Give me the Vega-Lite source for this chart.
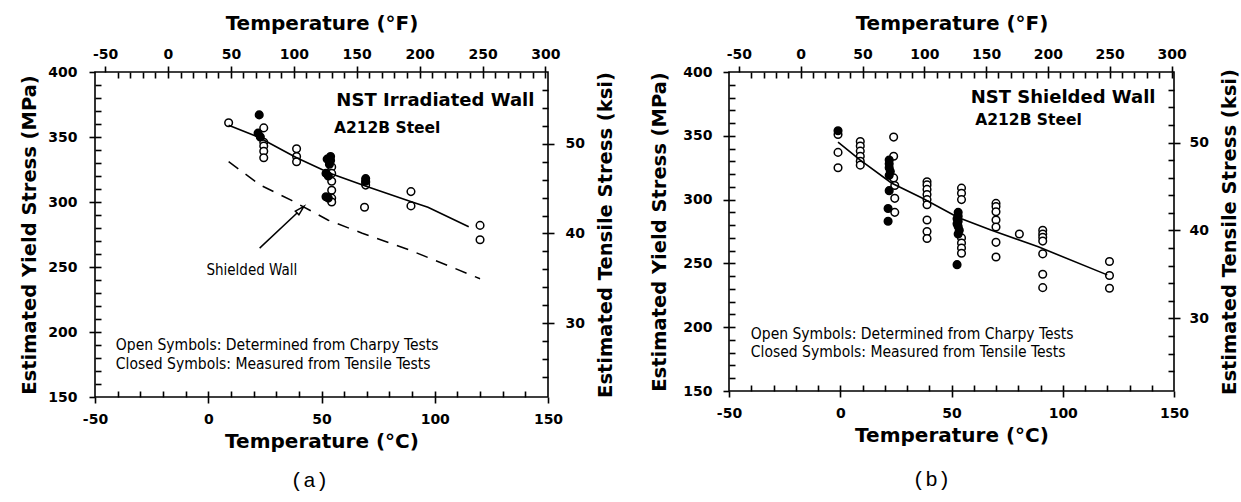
{
  "$schema": "https://vega.github.io/schema/vega-lite/v6.json",
  "background": "white",
  "padding": {"left": 18, "top": 12, "right": 0, "bottom": 2},
  "spacing": 32,
  "config": {
    "view": {"stroke": "black", "strokeWidth": 1.6},
    "axis": {
      "grid": false,
      "domain": false,
      "ticks": true,
      "labelFont": "DejaVu Sans",
      "labelFontWeight": "bold",
      "labelFontSize": 14,
      "labelColor": "black",
      "tickColor": "black",
      "tickWidth": 1.6,
      "titleFont": "DejaVu Sans",
      "titleFontWeight": "bold",
      "titleFontSize": 19.5,
      "titleColor": "black",
      "labelFlush": false,
      "labelOverlap": false,
      "labelBound": false
    },
    "text": {"color": "black"}
  },
  "datasets": {
    "irradiated": [
      {"temp_c": 9, "yield_mpa": 361, "test": "Charpy"},
      {"temp_c": 24.5, "yield_mpa": 357, "test": "Charpy"},
      {"temp_c": 24.5, "yield_mpa": 346, "test": "Charpy"},
      {"temp_c": 24.5, "yield_mpa": 343, "test": "Charpy"},
      {"temp_c": 24.5, "yield_mpa": 339, "test": "Charpy"},
      {"temp_c": 24.5, "yield_mpa": 334, "test": "Charpy"},
      {"temp_c": 39, "yield_mpa": 341, "test": "Charpy"},
      {"temp_c": 39, "yield_mpa": 335, "test": "Charpy"},
      {"temp_c": 39, "yield_mpa": 331, "test": "Charpy"},
      {"temp_c": 54.5, "yield_mpa": 327, "test": "Charpy"},
      {"temp_c": 54.5, "yield_mpa": 322, "test": "Charpy"},
      {"temp_c": 54.5, "yield_mpa": 316, "test": "Charpy"},
      {"temp_c": 54.5, "yield_mpa": 309, "test": "Charpy"},
      {"temp_c": 54.5, "yield_mpa": 303, "test": "Charpy"},
      {"temp_c": 54.5, "yield_mpa": 300, "test": "Charpy"},
      {"temp_c": 69.5, "yield_mpa": 315, "test": "Charpy"},
      {"temp_c": 69.5, "yield_mpa": 313, "test": "Charpy"},
      {"temp_c": 69, "yield_mpa": 296, "test": "Charpy"},
      {"temp_c": 89.5, "yield_mpa": 308, "test": "Charpy"},
      {"temp_c": 89.5, "yield_mpa": 297, "test": "Charpy"},
      {"temp_c": 120, "yield_mpa": 282, "test": "Charpy"},
      {"temp_c": 120, "yield_mpa": 271, "test": "Charpy"},
      {"temp_c": 22.5, "yield_mpa": 367, "test": "Tensile"},
      {"temp_c": 22, "yield_mpa": 353, "test": "Tensile"},
      {"temp_c": 23, "yield_mpa": 350, "test": "Tensile"},
      {"temp_c": 52.5, "yield_mpa": 333, "test": "Tensile"},
      {"temp_c": 54, "yield_mpa": 335, "test": "Tensile"},
      {"temp_c": 54, "yield_mpa": 332, "test": "Tensile"},
      {"temp_c": 53.5, "yield_mpa": 329, "test": "Tensile"},
      {"temp_c": 52, "yield_mpa": 322, "test": "Tensile"},
      {"temp_c": 53, "yield_mpa": 320, "test": "Tensile"},
      {"temp_c": 52, "yield_mpa": 304, "test": "Tensile"},
      {"temp_c": 53, "yield_mpa": 303, "test": "Tensile"},
      {"temp_c": 69.5, "yield_mpa": 318, "test": "Tensile"},
      {"temp_c": 69.5, "yield_mpa": 316, "test": "Tensile"}
    ],
    "irradiated_fit": [
      {"temp_c": 9, "yield_mpa": 359},
      {"temp_c": 22, "yield_mpa": 350},
      {"temp_c": 39, "yield_mpa": 334},
      {"temp_c": 54, "yield_mpa": 322},
      {"temp_c": 70, "yield_mpa": 312},
      {"temp_c": 90, "yield_mpa": 300},
      {"temp_c": 97, "yield_mpa": 296},
      {"temp_c": 115, "yield_mpa": 281}
    ],
    "shielded": [
      {"temp_c": -1, "yield_mpa": 351, "test": "Charpy"},
      {"temp_c": -1, "yield_mpa": 337, "test": "Charpy"},
      {"temp_c": -1, "yield_mpa": 325, "test": "Charpy"},
      {"temp_c": 9, "yield_mpa": 345.5, "test": "Charpy"},
      {"temp_c": 9, "yield_mpa": 342, "test": "Charpy"},
      {"temp_c": 9, "yield_mpa": 338, "test": "Charpy"},
      {"temp_c": 9, "yield_mpa": 334, "test": "Charpy"},
      {"temp_c": 9, "yield_mpa": 330, "test": "Charpy"},
      {"temp_c": 9, "yield_mpa": 327, "test": "Charpy"},
      {"temp_c": 24, "yield_mpa": 349, "test": "Charpy"},
      {"temp_c": 24, "yield_mpa": 334, "test": "Charpy"},
      {"temp_c": 24, "yield_mpa": 317, "test": "Charpy"},
      {"temp_c": 24.5, "yield_mpa": 311, "test": "Charpy"},
      {"temp_c": 24.5, "yield_mpa": 301, "test": "Charpy"},
      {"temp_c": 24.5, "yield_mpa": 290, "test": "Charpy"},
      {"temp_c": 39, "yield_mpa": 314, "test": "Charpy"},
      {"temp_c": 39, "yield_mpa": 311.5, "test": "Charpy"},
      {"temp_c": 39, "yield_mpa": 308, "test": "Charpy"},
      {"temp_c": 39, "yield_mpa": 304, "test": "Charpy"},
      {"temp_c": 39, "yield_mpa": 300, "test": "Charpy"},
      {"temp_c": 39, "yield_mpa": 296, "test": "Charpy"},
      {"temp_c": 39, "yield_mpa": 284, "test": "Charpy"},
      {"temp_c": 39, "yield_mpa": 275, "test": "Charpy"},
      {"temp_c": 39, "yield_mpa": 269.5, "test": "Charpy"},
      {"temp_c": 54.5, "yield_mpa": 309, "test": "Charpy"},
      {"temp_c": 54.5, "yield_mpa": 305, "test": "Charpy"},
      {"temp_c": 54.5, "yield_mpa": 300, "test": "Charpy"},
      {"temp_c": 54.5, "yield_mpa": 270, "test": "Charpy"},
      {"temp_c": 54.5, "yield_mpa": 266, "test": "Charpy"},
      {"temp_c": 54.5, "yield_mpa": 262, "test": "Charpy"},
      {"temp_c": 54.5, "yield_mpa": 258, "test": "Charpy"},
      {"temp_c": 70, "yield_mpa": 297, "test": "Charpy"},
      {"temp_c": 70, "yield_mpa": 294.5, "test": "Charpy"},
      {"temp_c": 70, "yield_mpa": 290.5, "test": "Charpy"},
      {"temp_c": 70, "yield_mpa": 284, "test": "Charpy"},
      {"temp_c": 70, "yield_mpa": 278.5, "test": "Charpy"},
      {"temp_c": 70, "yield_mpa": 266.5, "test": "Charpy"},
      {"temp_c": 70, "yield_mpa": 255, "test": "Charpy"},
      {"temp_c": 80.5, "yield_mpa": 273, "test": "Charpy"},
      {"temp_c": 91, "yield_mpa": 276, "test": "Charpy"},
      {"temp_c": 91, "yield_mpa": 273, "test": "Charpy"},
      {"temp_c": 91, "yield_mpa": 270.5, "test": "Charpy"},
      {"temp_c": 91, "yield_mpa": 267.5, "test": "Charpy"},
      {"temp_c": 91, "yield_mpa": 257.5, "test": "Charpy"},
      {"temp_c": 91, "yield_mpa": 241.5, "test": "Charpy"},
      {"temp_c": 91, "yield_mpa": 231, "test": "Charpy"},
      {"temp_c": 121, "yield_mpa": 251.5, "test": "Charpy"},
      {"temp_c": 121, "yield_mpa": 240.5, "test": "Charpy"},
      {"temp_c": 121, "yield_mpa": 230.5, "test": "Charpy"},
      {"temp_c": -1, "yield_mpa": 354, "test": "Tensile"},
      {"temp_c": 22, "yield_mpa": 331, "test": "Tensile"},
      {"temp_c": 22, "yield_mpa": 328, "test": "Tensile"},
      {"temp_c": 22, "yield_mpa": 325, "test": "Tensile"},
      {"temp_c": 22.5, "yield_mpa": 322, "test": "Tensile"},
      {"temp_c": 22, "yield_mpa": 319, "test": "Tensile"},
      {"temp_c": 22, "yield_mpa": 307, "test": "Tensile"},
      {"temp_c": 21.5, "yield_mpa": 293, "test": "Tensile"},
      {"temp_c": 21.5, "yield_mpa": 283, "test": "Tensile"},
      {"temp_c": 53, "yield_mpa": 290, "test": "Tensile"},
      {"temp_c": 53, "yield_mpa": 287, "test": "Tensile"},
      {"temp_c": 52.5, "yield_mpa": 285, "test": "Tensile"},
      {"temp_c": 53, "yield_mpa": 283, "test": "Tensile"},
      {"temp_c": 52.5, "yield_mpa": 281, "test": "Tensile"},
      {"temp_c": 53, "yield_mpa": 279, "test": "Tensile"},
      {"temp_c": 53.5, "yield_mpa": 276, "test": "Tensile"},
      {"temp_c": 53, "yield_mpa": 273, "test": "Tensile"},
      {"temp_c": 52.5, "yield_mpa": 249, "test": "Tensile"}
    ],
    "shielded_fit": [
      {"temp_c": -1, "yield_mpa": 345},
      {"temp_c": 9, "yield_mpa": 331},
      {"temp_c": 23, "yield_mpa": 313},
      {"temp_c": 37, "yield_mpa": 301},
      {"temp_c": 53, "yield_mpa": 286},
      {"temp_c": 68, "yield_mpa": 276},
      {"temp_c": 89, "yield_mpa": 263},
      {"temp_c": 120, "yield_mpa": 241}
    ]
  },
  "hconcat": [
    {
      "width": 453,
      "height": 325,
      "title": {"text": "(a)", "orient": "bottom", "anchor": "middle", "font": "Liberation Mono", "fontSize": 21, "fontWeight": "normal", "color": "black", "offset": 19, "dx": -12},
      "resolve": {"axis": {"x": "independent", "y": "independent"}},
      "layer": [
        {
          "data": {"name": "irradiated"},
          "mark": {"type": "point", "shape": "circle", "filled": true, "size": 58, "stroke": "black", "strokeWidth": 1.5, "opacity": 1},
          "encoding": {
            "x": {"field": "temp_c", "type": "quantitative", "scale": {"domain": [-50, 150], "nice": false, "zero": false},
              "axis": {"orient": "bottom", "values": [-50, 0, 50, 100, 150], "tickSize": 6, "labelPadding": 9, "title": "Temperature (°C)", "titleFontSize": 20, "titlePadding": 5, "labelExpr": "replace(format(datum.value, 'd'), '\u2212', '-')"}},
            "y": {"field": "yield_mpa", "type": "quantitative", "scale": {"domain": [150, 400], "nice": false, "zero": false},
              "axis": {"orient": "left", "values": [150, 200, 250, 300, 350, 400], "tickSize": 6, "labelPadding": 12, "title": "Estimated Yield Stress (MPa)", "titlePadding": 8}},
            "fill": {"field": "test", "type": "nominal", "scale": {"domain": ["Charpy", "Tensile"], "range": ["white", "black"]}, "legend": null}
          }
        },
        {
          "data": {"name": "irradiated_fit"},
          "mark": {"type": "line", "color": "black", "strokeWidth": 1.6},
          "encoding": {
            "x": {"field": "temp_c", "type": "quantitative", "scale": {"domain": [-50, 150], "nice": false, "zero": false},
              "axis": {"orient": "bottom", "values": [-40, -30, -20, -10, 0, 10, 20, 30, 40, 50, 60, 70, 80, 90, 100, 110, 120, 130, 140], "tickSize": -6, "labels": false, "title": null}},
            "y": {"field": "yield_mpa", "type": "quantitative", "scale": {"domain": [150, 400], "nice": false, "zero": false},
              "axis": {"orient": "left", "values": [160, 170, 180, 190, 200, 210, 220, 230, 240, 250, 260, 270, 280, 290, 300, 310, 320, 330, 340, 350, 360, 370, 380, 390], "tickSize": -6, "labels": false, "title": null}}
          }
        },
        {
          "data": {"name": "shielded_fit"},
          "transform": [{"filter": "datum.temp_c >= 9"}],
          "mark": {"type": "line", "color": "black", "strokeWidth": 1.5, "strokeDash": [12, 9]},
          "encoding": {
            "x": {"field": "temp_c", "type": "quantitative", "scale": {"domain": [-50, 150], "nice": false, "zero": false},
              "axis": {"orient": "top", "values": [-45.556, -17.778, 10, 37.778, 65.556, 93.333, 121.111, 148.889], "tickSize": 6, "labelPadding": 5, "title": "Temperature (°F)", "titleFontSize": 20, "titlePadding": 14, "labelExpr": "replace(format(datum.value * 1.8 + 32, '.0f'), '\u2212', '-')"}},
            "y": {"field": "yield_mpa", "type": "quantitative", "scale": {"domain": [150, 400], "nice": false, "zero": false},
              "axis": {"orient": "right", "values": [206.843, 275.79, 344.738], "tickSize": 6, "labelPadding": 11, "title": "Estimated Tensile Stress (ksi)", "titleAngle": 270, "titleBaseline": "top", "titlePadding": 12, "labelExpr": "format(datum.value / 6.894757, '.0f')"}}
          }
        },
        {
          "data": {"values": [{}]},
          "mark": {"type": "text", "text": "NST Irradiated Wall", "font": "DejaVu Sans", "fontWeight": "bold", "fontSize": 18, "align": "right", "baseline": "middle"},
          "encoding": {
            "x": {"datum": 144, "type": "quantitative", "scale": {"domain": [-50, 150], "nice": false, "zero": false},
              "axis": {"orient": "top", "values": [-40, -34.444, -28.889, -23.333, -17.778, -12.222, -6.667, -1.111, 4.444, 10, 15.556, 21.111, 26.667, 32.222, 37.778, 43.333, 48.889, 54.444, 60, 65.556, 71.111, 76.667, 82.222, 87.778, 93.333, 98.889, 104.444, 110, 115.556, 121.111, 126.667, 132.222, 137.778, 143.333, 148.889], "tickSize": -6, "labels": false, "title": null}},
            "y": {"datum": 378, "type": "quantitative", "scale": {"domain": [150, 400], "nice": false, "zero": false},
              "axis": {"orient": "right", "values": [165.465, 179.264, 193.053, 206.843, 220.632, 234.422, 248.211, 262.001, 275.79, 289.58, 303.369, 317.159, 330.948, 344.738, 358.527, 372.317, 386.106], "tickSize": -6, "labels": false, "title": null}}
          }
        },
        {
          "data": {"values": [{}]},
          "mark": {"type": "text", "text": "A212B  Steel", "font": "DejaVu Sans", "fontWeight": "bold", "fontSize": 15.5, "align": "left", "baseline": "middle"},
          "encoding": {
            "x": {"datum": 55.5, "type": "quantitative", "scale": {"domain": [-50, 150], "nice": false, "zero": false}, "axis": null},
            "y": {"datum": 357, "type": "quantitative", "scale": {"domain": [150, 400], "nice": false, "zero": false}, "axis": null}
          }
        },
        {
          "data": {"values": [{}]},
          "mark": {"type": "text", "text": "Open Symbols: Determined from Charpy Tests", "font": "Liberation Sans Narrow, DejaVu Sans Condensed, sans-serif", "fontSize": 15.5, "align": "left", "baseline": "middle"},
          "encoding": {
            "x": {"datum": -40.8, "type": "quantitative", "scale": {"domain": [-50, 150], "nice": false, "zero": false}, "axis": null},
            "y": {"datum": 190, "type": "quantitative", "scale": {"domain": [150, 400], "nice": false, "zero": false}, "axis": null}
          }
        },
        {
          "data": {"values": [{}]},
          "mark": {"type": "text", "text": "Closed Symbols: Measured from Tensile Tests", "font": "Liberation Sans Narrow, DejaVu Sans Condensed, sans-serif", "fontSize": 15.5, "align": "left", "baseline": "middle"},
          "encoding": {
            "x": {"datum": -40.8, "type": "quantitative", "scale": {"domain": [-50, 150], "nice": false, "zero": false}, "axis": null},
            "y": {"datum": 175.4, "type": "quantitative", "scale": {"domain": [150, 400], "nice": false, "zero": false}, "axis": null}
          }
        },
        {
          "data": {"values": [{}]},
          "mark": {"type": "text", "text": "Shielded Wall", "font": "Liberation Sans Narrow, DejaVu Sans Condensed, sans-serif", "fontSize": 15, "align": "left", "baseline": "middle"},
          "encoding": {
            "x": {"datum": -0.8, "type": "quantitative", "scale": {"domain": [-50, 150], "nice": false, "zero": false}, "axis": null},
            "y": {"datum": 247.7, "type": "quantitative", "scale": {"domain": [150, 400], "nice": false, "zero": false}, "axis": null}
          }
        },
        {
          "data": {"values": [{}]},
          "mark": {"type": "rule", "color": "black", "strokeWidth": 1.5},
          "encoding": {
            "x": {"datum": 22.7, "type": "quantitative", "scale": {"domain": [-50, 150], "nice": false, "zero": false}, "axis": null},
            "y": {"datum": 264.5, "type": "quantitative", "scale": {"domain": [150, 400], "nice": false, "zero": false}, "axis": null},
            "x2": {"datum": 40.5},
            "y2": {"datum": 293.7}
          }
        },
        {
          "data": {"values": [{}]},
          "mark": {"type": "point", "shape": "M0,-1L0.45,0.7L-0.45,0.7Z", "size": 130, "angle": 46, "filled": true, "fill": "white", "stroke": "black", "strokeWidth": 1.5, "opacity": 1},
          "encoding": {
            "x": {"datum": 40.5, "type": "quantitative", "scale": {"domain": [-50, 150], "nice": false, "zero": false}, "axis": null},
            "y": {"datum": 293.7, "type": "quantitative", "scale": {"domain": [150, 400], "nice": false, "zero": false}, "axis": null}
          }
        }
      ]
    },
    {
      "width": 445,
      "height": 319,
      "title": {"text": "(b)", "orient": "bottom", "anchor": "middle", "font": "Liberation Mono", "fontSize": 21, "fontWeight": "normal", "color": "black", "offset": 24, "dx": -20},
      "resolve": {"axis": {"x": "independent", "y": "independent"}},
      "layer": [
        {
          "data": {"name": "shielded"},
          "mark": {"type": "point", "shape": "circle", "filled": true, "size": 58, "stroke": "black", "strokeWidth": 1.5, "opacity": 1},
          "encoding": {
            "x": {"field": "temp_c", "type": "quantitative", "scale": {"domain": [-50, 150], "nice": false, "zero": false},
              "axis": {"orient": "bottom", "values": [-50, 0, 50, 100, 150], "tickSize": 6, "labelPadding": 9, "title": "Temperature (°C)", "titleFontSize": 20, "titlePadding": 5, "labelExpr": "replace(format(datum.value, 'd'), '\u2212', '-')"}},
            "y": {"field": "yield_mpa", "type": "quantitative", "scale": {"domain": [150, 400], "nice": false, "zero": false},
              "axis": {"orient": "left", "values": [150, 200, 250, 300, 350, 400], "tickSize": 6, "labelPadding": 11, "title": "Estimated Yield Stress (MPa)", "titlePadding": 13}},
            "fill": {"field": "test", "type": "nominal", "scale": {"domain": ["Charpy", "Tensile"], "range": ["white", "black"]}, "legend": null}
          }
        },
        {
          "data": {"name": "shielded_fit"},
          "mark": {"type": "line", "color": "black", "strokeWidth": 1.6},
          "encoding": {
            "x": {"field": "temp_c", "type": "quantitative", "scale": {"domain": [-50, 150], "nice": false, "zero": false},
              "axis": {"orient": "bottom", "values": [-40, -30, -20, -10, 0, 10, 20, 30, 40, 50, 60, 70, 80, 90, 100, 110, 120, 130, 140], "tickSize": -6, "labels": false, "title": null}},
            "y": {"field": "yield_mpa", "type": "quantitative", "scale": {"domain": [150, 400], "nice": false, "zero": false},
              "axis": {"orient": "left", "values": [160, 170, 180, 190, 200, 210, 220, 230, 240, 250, 260, 270, 280, 290, 300, 310, 320, 330, 340, 350, 360, 370, 380, 390], "tickSize": -6, "labels": false, "title": null}}
          }
        },
        {
          "data": {"values": [{}]},
          "mark": {"type": "text", "text": "NST Shielded Wall", "font": "DejaVu Sans", "fontWeight": "bold", "fontSize": 18, "align": "right", "baseline": "middle"},
          "encoding": {
            "x": {"datum": 141.7, "type": "quantitative", "scale": {"domain": [-50, 150], "nice": false, "zero": false},
              "axis": {"orient": "top", "values": [-45.556, -17.778, 10, 37.778, 65.556, 93.333, 121.111, 148.889], "tickSize": 6, "labelPadding": 5, "title": "Temperature (°F)", "titleFontSize": 20, "titlePadding": 14, "labelExpr": "replace(format(datum.value * 1.8 + 32, '.0f'), '\u2212', '-')"}},
            "y": {"datum": 380, "type": "quantitative", "scale": {"domain": [150, 400], "nice": false, "zero": false},
              "axis": {"orient": "right", "values": [206.843, 275.79, 344.738], "tickSize": 6, "labelPadding": 9, "title": "Estimated Tensile Stress (ksi)", "titleAngle": 270, "titleBaseline": "top", "titlePadding": 12, "labelExpr": "format(datum.value / 6.894757, '.0f')"}}
          }
        },
        {
          "data": {"values": [{}]},
          "mark": {"type": "text", "text": "A212B  Steel", "font": "DejaVu Sans", "fontWeight": "bold", "fontSize": 15.5, "align": "left", "baseline": "middle"},
          "encoding": {
            "x": {"datum": 60.7, "type": "quantitative", "scale": {"domain": [-50, 150], "nice": false, "zero": false},
              "axis": {"orient": "top", "values": [-40, -34.444, -28.889, -23.333, -17.778, -12.222, -6.667, -1.111, 4.444, 10, 15.556, 21.111, 26.667, 32.222, 37.778, 43.333, 48.889, 54.444, 60, 65.556, 71.111, 76.667, 82.222, 87.778, 93.333, 98.889, 104.444, 110, 115.556, 121.111, 126.667, 132.222, 137.778, 143.333, 148.889], "tickSize": -6, "labels": false, "title": null}},
            "y": {"datum": 362.4, "type": "quantitative", "scale": {"domain": [150, 400], "nice": false, "zero": false},
              "axis": {"orient": "right", "values": [165.465, 179.264, 193.053, 206.843, 220.632, 234.422, 248.211, 262.001, 275.79, 289.58, 303.369, 317.159, 330.948, 344.738, 358.527, 372.317, 386.106], "tickSize": -6, "labels": false, "title": null}}
          }
        },
        {
          "data": {"values": [{}]},
          "mark": {"type": "text", "text": "Open Symbols: Determined from Charpy Tests", "font": "Liberation Sans Narrow, DejaVu Sans Condensed, sans-serif", "fontSize": 15.5, "align": "left", "baseline": "middle"},
          "encoding": {
            "x": {"datum": -40.2, "type": "quantitative", "scale": {"domain": [-50, 150], "nice": false, "zero": false}, "axis": null},
            "y": {"datum": 194.4, "type": "quantitative", "scale": {"domain": [150, 400], "nice": false, "zero": false}, "axis": null}
          }
        },
        {
          "data": {"values": [{}]},
          "mark": {"type": "text", "text": "Closed Symbols: Measured from Tensile Tests", "font": "Liberation Sans Narrow, DejaVu Sans Condensed, sans-serif", "fontSize": 15.5, "align": "left", "baseline": "middle"},
          "encoding": {
            "x": {"datum": -40.2, "type": "quantitative", "scale": {"domain": [-50, 150], "nice": false, "zero": false}, "axis": null},
            "y": {"datum": 180.3, "type": "quantitative", "scale": {"domain": [150, 400], "nice": false, "zero": false}, "axis": null}
          }
        }
      ]
    }
  ]
}
